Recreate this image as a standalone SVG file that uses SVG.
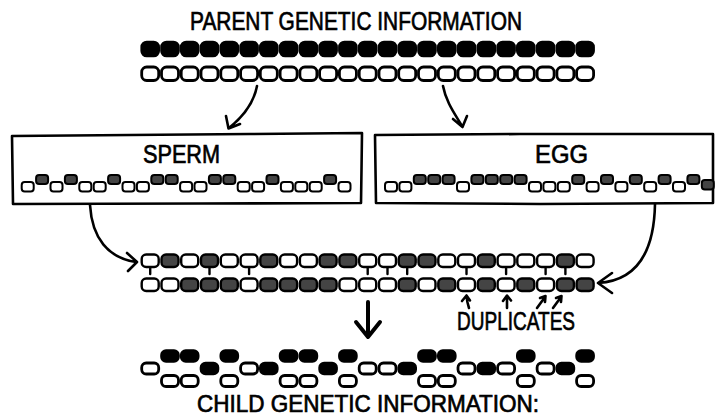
<svg xmlns="http://www.w3.org/2000/svg" width="715" height="419" viewBox="0 0 715 419">
<style>
text{font-family:"Liberation Sans","DejaVu Sans",sans-serif;font-size:26px;fill:#000;stroke:#000;stroke-width:0.7;text-anchor:start}
.ln{fill:none;stroke:#000;stroke-width:2.6;stroke-linecap:round;stroke-linejoin:round}
.pf{fill:#000;stroke:#000;stroke-width:2.6}
.ph{fill:#fff;stroke:#000;stroke-width:2.8}
.mf{fill:#444;stroke:#000;stroke-width:2.4}
.mh{fill:#fff;stroke:#000;stroke-width:2.4}
.sf{fill:#444;stroke:#000;stroke-width:2}
.sh{fill:#fff;stroke:#000;stroke-width:2}
.tk{stroke:#000;stroke-width:2.4;stroke-linecap:round}
</style>
<rect width="715" height="419" fill="#fff"/>

<g id="parent">
<text x="190" y="30" textLength="332" lengthAdjust="spacingAndGlyphs">PARENT GENETIC INFORMATION</text>
<g class="pf">
<rect x="141.7" y="42" width="17" height="14" rx="5"/><rect x="161.5" y="42" width="17" height="14" rx="5"/><rect x="181.2" y="42" width="17" height="14" rx="5"/><rect x="201" y="42" width="17" height="14" rx="5"/><rect x="220.8" y="42" width="17" height="14" rx="5"/><rect x="240.6" y="42" width="17" height="14" rx="5"/><rect x="260.3" y="42" width="17" height="14" rx="5"/><rect x="280.1" y="42" width="17" height="14" rx="5"/><rect x="299.9" y="42" width="17" height="14" rx="5"/><rect x="319.6" y="42" width="17" height="14" rx="5"/><rect x="339.4" y="42" width="17" height="14" rx="5"/><rect x="359.2" y="42" width="17" height="14" rx="5"/><rect x="379" y="42" width="17" height="14" rx="5"/><rect x="398.7" y="42" width="17" height="14" rx="5"/><rect x="418.5" y="42" width="17" height="14" rx="5"/><rect x="438.3" y="42" width="17" height="14" rx="5"/><rect x="458" y="42" width="17" height="14" rx="5"/><rect x="477.8" y="42" width="17" height="14" rx="5"/><rect x="497.6" y="42" width="17" height="14" rx="5"/><rect x="517.3" y="42" width="17" height="14" rx="5"/><rect x="537.1" y="42" width="17" height="14" rx="5"/><rect x="556.9" y="42" width="17" height="14" rx="5"/><rect x="576.6" y="42" width="17" height="14" rx="5"/>
</g>
<g class="ph">
<rect x="141.7" y="67" width="17" height="13.5" rx="5"/><rect x="161.5" y="67" width="17" height="13.5" rx="5"/><rect x="181.2" y="67" width="17" height="13.5" rx="5"/><rect x="201" y="67" width="17" height="13.5" rx="5"/><rect x="220.8" y="67" width="17" height="13.5" rx="5"/><rect x="240.6" y="67" width="17" height="13.5" rx="5"/><rect x="260.3" y="67" width="17" height="13.5" rx="5"/><rect x="280.1" y="67" width="17" height="13.5" rx="5"/><rect x="299.9" y="67" width="17" height="13.5" rx="5"/><rect x="319.6" y="67" width="17" height="13.5" rx="5"/><rect x="339.4" y="67" width="17" height="13.5" rx="5"/><rect x="359.2" y="67" width="17" height="13.5" rx="5"/><rect x="379" y="67" width="17" height="13.5" rx="5"/><rect x="398.7" y="67" width="17" height="13.5" rx="5"/><rect x="418.5" y="67" width="17" height="13.5" rx="5"/><rect x="438.3" y="67" width="17" height="13.5" rx="5"/><rect x="458" y="67" width="17" height="13.5" rx="5"/><rect x="477.8" y="67" width="17" height="13.5" rx="5"/><rect x="497.6" y="67" width="17" height="13.5" rx="5"/><rect x="517.3" y="67" width="17" height="13.5" rx="5"/><rect x="537.1" y="67" width="17" height="13.5" rx="5"/><rect x="556.9" y="67" width="17" height="13.5" rx="5"/><rect x="576.6" y="67" width="17" height="13.5" rx="5"/>
</g>
</g>

<g id="sperm">
<path class="ln" d="M12,136 L130,135 L250,134 L362,133 L361.5,170 L361,203 L200,203.5 L13,204 L12.5,170 Z"/>
<text x="143" y="163" textLength="77" lengthAdjust="spacingAndGlyphs">SPERM</text>
<g class="sh">
<rect x="21.7" y="182" width="12" height="9.5" rx="3"/><rect x="50.5" y="182" width="12" height="9.5" rx="3"/><rect x="79.3" y="182" width="12" height="9.5" rx="3"/><rect x="93.7" y="182" width="12" height="9.5" rx="3"/><rect x="122.5" y="182" width="12" height="9.5" rx="3"/><rect x="136.9" y="182" width="12" height="9.5" rx="3"/><rect x="180.1" y="182" width="12" height="9.5" rx="3"/><rect x="194.5" y="182" width="12" height="9.5" rx="3"/><rect x="237.7" y="182" width="12" height="9.5" rx="3"/><rect x="252.1" y="182" width="12" height="9.5" rx="3"/><rect x="280.9" y="182" width="12" height="9.5" rx="3"/><rect x="295.3" y="182" width="12" height="9.5" rx="3"/><rect x="309.7" y="182" width="12" height="9.5" rx="3"/><rect x="338.5" y="182" width="12" height="9.5" rx="3"/>
</g>
<g class="sf">
<rect x="36.1" y="175" width="12" height="9" rx="3"/><rect x="64.9" y="175" width="12" height="9" rx="3"/><rect x="108.1" y="175" width="12" height="9" rx="3"/><rect x="151.3" y="175" width="12" height="9" rx="3"/><rect x="165.7" y="175" width="12" height="9" rx="3"/><rect x="208.9" y="175" width="12" height="9" rx="3"/><rect x="223.3" y="175" width="12" height="9" rx="3"/><rect x="266.5" y="175" width="12" height="9" rx="3"/><rect x="324.1" y="175" width="12" height="9" rx="3"/>
</g>
</g>

<g id="egg">
<path class="ln" d="M375,135 L520,134 L713,134 L713,170 L713,203 L540,204 L376,203 L375.5,170 Z"/>
<text x="535" y="163" textLength="53" lengthAdjust="spacingAndGlyphs">EGG</text>
<g class="sh">
<rect x="385" y="182" width="12" height="9.5" rx="3"/><rect x="399.4" y="182" width="12" height="9.5" rx="3"/><rect x="457" y="182" width="12" height="9.5" rx="3"/><rect x="529" y="182" width="12" height="9.5" rx="3"/><rect x="543.4" y="182" width="12" height="9.5" rx="3"/><rect x="557.8" y="182" width="12" height="9.5" rx="3"/><rect x="586.6" y="182" width="12" height="9.5" rx="3"/><rect x="615.4" y="182" width="12" height="9.5" rx="3"/><rect x="644.2" y="182" width="12" height="9.5" rx="3"/><rect x="673" y="182" width="12" height="9.5" rx="3"/>
</g>
<g class="sf">
<rect x="413.8" y="175" width="12" height="9" rx="3"/><rect x="428.2" y="175" width="12" height="9" rx="3"/><rect x="442.6" y="175" width="12" height="9" rx="3"/><rect x="471.4" y="175" width="12" height="9" rx="3"/><rect x="485.8" y="175" width="12" height="9" rx="3"/><rect x="500.2" y="175" width="12" height="9" rx="3"/><rect x="514.6" y="175" width="12" height="9" rx="3"/><rect x="572.2" y="175" width="12" height="9" rx="3"/><rect x="601" y="175" width="12" height="9" rx="3"/><rect x="629.8" y="175" width="12" height="9" rx="3"/><rect x="658.6" y="175" width="12" height="9" rx="3"/><rect x="687.4" y="175" width="12" height="9" rx="3"/><rect x="701.8" y="180" width="12" height="9.5" rx="3"/>
</g>
</g>

<g id="combined">
<g class="mh">
<rect x="141.7" y="254.5" width="17" height="12.5" rx="4.5"/><rect x="181.2" y="254.5" width="17" height="12.5" rx="4.5"/><rect x="220.8" y="254.5" width="17" height="12.5" rx="4.5"/><rect x="240.6" y="254.5" width="17" height="12.5" rx="4.5"/><rect x="280.1" y="254.5" width="17" height="12.5" rx="4.5"/><rect x="299.9" y="254.5" width="17" height="12.5" rx="4.5"/><rect x="359.2" y="254.5" width="17" height="12.5" rx="4.5"/><rect x="379" y="254.5" width="17" height="12.5" rx="4.5"/><rect x="438.3" y="254.5" width="17" height="12.5" rx="4.5"/><rect x="458" y="254.5" width="17" height="12.5" rx="4.5"/><rect x="497.6" y="254.5" width="17" height="12.5" rx="4.5"/><rect x="517.3" y="254.5" width="17" height="12.5" rx="4.5"/><rect x="537.1" y="254.5" width="17" height="12.5" rx="4.5"/><rect x="576.6" y="254.5" width="17" height="12.5" rx="4.5"/>
<rect x="141.7" y="278.5" width="17" height="12.5" rx="4.5"/><rect x="161.5" y="278.5" width="17" height="12.5" rx="4.5"/><rect x="240.6" y="278.5" width="17" height="12.5" rx="4.5"/><rect x="339.4" y="278.5" width="17" height="12.5" rx="4.5"/><rect x="359.2" y="278.5" width="17" height="12.5" rx="4.5"/><rect x="379" y="278.5" width="17" height="12.5" rx="4.5"/><rect x="418.5" y="278.5" width="17" height="12.5" rx="4.5"/><rect x="458" y="278.5" width="17" height="12.5" rx="4.5"/><rect x="497.6" y="278.5" width="17" height="12.5" rx="4.5"/><rect x="537.1" y="278.5" width="17" height="12.5" rx="4.5"/>
</g>
<g class="mf">
<rect x="161.5" y="254.5" width="17" height="12.5" rx="4.5"/><rect x="201" y="254.5" width="17" height="12.5" rx="4.5"/><rect x="260.3" y="254.5" width="17" height="12.5" rx="4.5"/><rect x="319.6" y="254.5" width="17" height="12.5" rx="4.5"/><rect x="339.4" y="254.5" width="17" height="12.5" rx="4.5"/><rect x="398.7" y="254.5" width="17" height="12.5" rx="4.5"/><rect x="418.5" y="254.5" width="17" height="12.5" rx="4.5"/><rect x="477.8" y="254.5" width="17" height="12.5" rx="4.5"/><rect x="556.9" y="254.5" width="17" height="12.5" rx="4.5"/>
<rect x="181.2" y="278.5" width="17" height="12.5" rx="4.5"/><rect x="201" y="278.5" width="17" height="12.5" rx="4.5"/><rect x="220.8" y="278.5" width="17" height="12.5" rx="4.5"/><rect x="260.3" y="278.5" width="17" height="12.5" rx="4.5"/><rect x="280.1" y="278.5" width="17" height="12.5" rx="4.5"/><rect x="299.9" y="278.5" width="17" height="12.5" rx="4.5"/><rect x="319.6" y="278.5" width="17" height="12.5" rx="4.5"/><rect x="398.7" y="278.5" width="17" height="12.5" rx="4.5"/><rect x="438.3" y="278.5" width="17" height="12.5" rx="4.5"/><rect x="477.8" y="278.5" width="17" height="12.5" rx="4.5"/><rect x="517.3" y="278.5" width="17" height="12.5" rx="4.5"/><rect x="556.9" y="278.5" width="17" height="12.5" rx="4.5"/><rect x="576.6" y="278.5" width="17" height="12.5" rx="4.5"/>
</g>
<g class="tk">
<line x1="150.2" y1="268.5" x2="150.2" y2="274"/><line x1="209.5" y1="268.5" x2="209.5" y2="274"/><line x1="249.1" y1="268.5" x2="249.1" y2="274"/><line x1="367.7" y1="268.5" x2="367.7" y2="274"/><line x1="387.5" y1="268.5" x2="387.5" y2="274"/><line x1="407.2" y1="268.5" x2="407.2" y2="274"/><line x1="466.5" y1="268.5" x2="466.5" y2="274"/><line x1="506.1" y1="268.5" x2="506.1" y2="274"/><line x1="545.6" y1="268.5" x2="545.6" y2="274"/><line x1="565.4" y1="268.5" x2="565.4" y2="274"/>
</g>
</g>

<g id="duplicates">
<text x="457" y="330" textLength="118" lengthAdjust="spacingAndGlyphs">DUPLICATES</text>
<path class="ln" d="M469,308 Q467,302 466.5,296 M462,301 L466.5,295.5 L470,300.5"/>
<path class="ln" d="M507,308 L507,296 M503,301 L507,295.5 L511,300.5"/>
<path class="ln" d="M537,308 L545,297 M540,298 L545.5,296 L545,302"/>
<path class="ln" d="M553,308 L561,297 M556,298 L561.5,296 L561,302"/>
</g>

<g id="child">
<g class="ph">
<rect x="141.7" y="363" width="17" height="11" rx="4.5"/><rect x="240.6" y="363" width="17" height="11" rx="4.5"/><rect x="359.2" y="363" width="17" height="11" rx="4.5"/><rect x="379" y="363" width="17" height="11" rx="4.5"/><rect x="458" y="363" width="17" height="11" rx="4.5"/><rect x="497.6" y="363" width="17" height="11" rx="4.5"/><rect x="537.1" y="363" width="17" height="11" rx="4.5"/>
<rect x="161.5" y="375.5" width="17" height="11" rx="4.5"/><rect x="181.2" y="375.5" width="17" height="11" rx="4.5"/><rect x="220.8" y="375.5" width="17" height="11" rx="4.5"/><rect x="280.1" y="375.5" width="17" height="11" rx="4.5"/><rect x="299.9" y="375.5" width="17" height="11" rx="4.5"/><rect x="339.4" y="375.5" width="17" height="11" rx="4.5"/><rect x="418.5" y="375.5" width="17" height="11" rx="4.5"/><rect x="438.3" y="375.5" width="17" height="11" rx="4.5"/><rect x="517.3" y="375.5" width="17" height="11" rx="4.5"/><rect x="576.6" y="375.5" width="17" height="11" rx="4.5"/>
</g>
<g class="pf">
<rect x="201" y="363" width="17" height="11" rx="4.5"/><rect x="260.3" y="363" width="17" height="11" rx="4.5"/><rect x="319.6" y="363" width="17" height="11" rx="4.5"/><rect x="398.7" y="363" width="17" height="11" rx="4.5"/><rect x="477.8" y="363" width="17" height="11" rx="4.5"/><rect x="556.9" y="363" width="17" height="11" rx="4.5"/>
<rect x="161.5" y="350.5" width="17" height="11" rx="4.5"/><rect x="181.2" y="350.5" width="17" height="11" rx="4.5"/><rect x="220.8" y="350.5" width="17" height="11" rx="4.5"/><rect x="280.1" y="350.5" width="17" height="11" rx="4.5"/><rect x="299.9" y="350.5" width="17" height="11" rx="4.5"/><rect x="339.4" y="350.5" width="17" height="11" rx="4.5"/><rect x="418.5" y="350.5" width="17" height="11" rx="4.5"/><rect x="438.3" y="350.5" width="17" height="11" rx="4.5"/><rect x="517.3" y="350.5" width="17" height="11" rx="4.5"/><rect x="576.6" y="350.5" width="17" height="11" rx="4.5"/>
</g>
<text x="197" y="412" style="font-size:24px" textLength="342" lengthAdjust="spacingAndGlyphs">CHILD GENETIC INFORMATION:</text>
</g>

<g id="connectors">
<path class="ln" d="M257,86 C254,102 244,116 229,128 M226,116 L228.5,128.5 L240,124"/>
<path class="ln" d="M443,86 C446,102 455,114 462,126 M453,119 L462.5,127 L467,116"/>
<path class="ln" d="M90,205 C92,238 108,258 136,262 M127,253 L137,262 L128,271"/>
<path class="ln" d="M655,204 C654,258 632,281 598,283 M612,273 L598,283 L612,293"/>
<path class="ln" style="stroke-width:4" d="M368,302 L368,335 M356,322 L368,337 L380,322"/>
</g>
</svg>
